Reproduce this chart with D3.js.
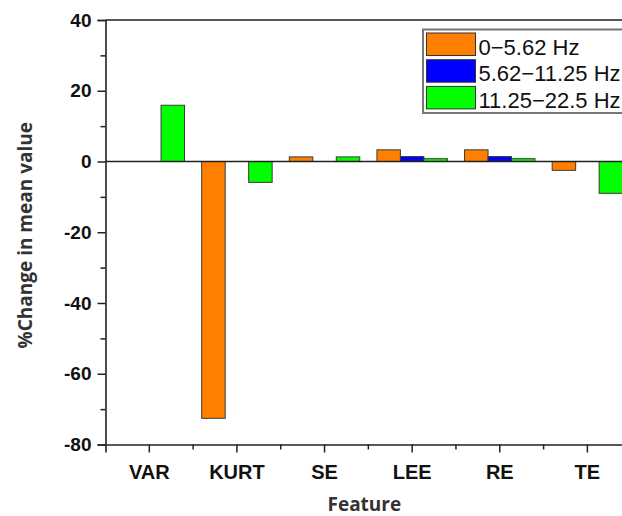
<!DOCTYPE html>
<html>
<head>
<meta charset="utf-8">
<script src="https://cdn.jsdelivr.net/npm/d3@7"></script>
<style>
  html, body { margin: 0; padding: 0; background: #fff; }
  svg { display: block; }
</style>
</head>
<body>
<svg id="chart" width="622" height="516"></svg>
<script>
const categories = ["VAR", "KURT", "SE", "LEE", "RE", "TE"];
const seriesNames = ["0\u22125.62 Hz", "5.62\u221211.25 Hz", "11.25\u221222.5 Hz"];
const seriesColors = ["#FF8000", "#0000FF", "#00FF00"];
const band1 = [0, -72.6, 1.3, 3.3, 3.3, -2.5];   // 0-5.62 Hz
const band2 = [0, 0, 0, 1.4, 1.4, 0];            // 5.62-11.25 Hz
const band3 = [15.9, -5.9, 1.3, 0.8, 0.8, -9.0]; // 11.25-22.5 Hz
const seriesValues = [band1, band2, band3];
const yMajorTicks = [-80, -60, -40, -20, 0, 20, 40];
const yMinorTicks = [-70, -50, -30, -10, 10, 30];

const svg = d3.select("#chart");
const mLeft = 105.5, mRight = 631.2, mTop = 20, mBottom = 444.5;

const x = d3.scaleBand().domain(categories).range([mLeft, mRight]).padding(0);
const bw = x.bandwidth();
const xs = d3.scaleBand().domain(d3.range(seriesNames.length)).range([bw * 0.098, bw * 0.902]).padding(0);
const y = d3.scaleLinear().domain([-80, 40]).range([mBottom, mTop]);

// bars
seriesValues.forEach((vals, si) => {
  svg.append("g").selectAll("rect")
    .data(vals.map((v, i) => ({ v, c: categories[i] })).filter(d => d.v !== 0))
    .join("rect")
    .attr("x", d => x(d.c) + xs(si))
    .attr("width", xs.bandwidth())
    .attr("y", d => y(Math.max(0, d.v)))
    .attr("height", d => Math.abs(y(d.v) - y(0)))
    .attr("fill", seriesColors[si])
    .attr("stroke", "#3a3a3a")
    .attr("stroke-width", 1);
});

// zero line
svg.append("line")
  .attr("x1", mLeft).attr("x2", mRight)
  .attr("y1", y(0)).attr("y2", y(0))
  .attr("stroke", "#222").attr("stroke-width", 1.3);

// frame top/right
svg.append("path")
  .attr("d", `M${mLeft},${mTop}H${mRight}V${mBottom}`)
  .attr("fill", "none").attr("stroke", "#222").attr("stroke-width", 1.6);

// y axis
const yAxis = svg.append("g").attr("transform", `translate(${mLeft},0)`)
  .call(d3.axisLeft(y).tickValues(yMajorTicks).tickSize(8).tickPadding(6).tickFormat(d => String(d)));
svg.append("g").attr("transform", `translate(${mLeft},0)`)
  .call(d3.axisLeft(y).tickValues(yMinorTicks).tickSize(5).tickFormat(""))
  .call(g => g.select(".domain").remove());

// x axis
const xAxis = svg.append("g").attr("transform", `translate(0,${mBottom})`)
  .call(d3.axisBottom(x).tickSize(8).tickPadding(12));
const xMinor = categories.slice(1).map(c => x(c));
svg.append("g").attr("transform", `translate(0,${mBottom})`)
  .selectAll("line").data(xMinor).join("line")
  .attr("x1", d => d).attr("x2", d => d).attr("y1", 0).attr("y2", 5)
  .attr("stroke", "#222").attr("stroke-width", 1.5);

svg.selectAll(".domain").attr("stroke", "#222").attr("stroke-width", 1.6);
svg.selectAll(".tick line").attr("stroke", "#222").attr("stroke-width", 1.5);
yAxis.selectAll(".tick text")
  .attr("font-family", "Liberation Sans, Arial, sans-serif")
  .attr("font-weight", "bold").attr("font-size", 19).attr("fill", "#111");
xAxis.selectAll(".tick text")
  .attr("font-family", "Liberation Sans, Arial, sans-serif")
  .attr("font-weight", "bold").attr("font-size", 20).attr("fill", "#111");

// axis titles
svg.append("text")
  .attr("x", (mLeft + mRight) / 2 - 4).attr("y", 511)
  .attr("text-anchor", "middle")
  .attr("font-family", "Open Sans, sans-serif").attr("font-weight", "bold")
  .attr("font-size", 19).attr("fill", "#333")
  .text("Feature");
svg.append("text")
  .attr("transform", `translate(32,${(mTop + mBottom) / 2 + 3}) rotate(-90)`)
  .attr("text-anchor", "middle")
  .attr("font-family", "Open Sans, sans-serif").attr("font-weight", "bold")
  .attr("font-size", 19).attr("fill", "#333")
  .text("%Change in mean value");

// legend
const lg = svg.append("g").attr("transform", "translate(423,29.5)");
lg.append("rect").attr("x", 0).attr("y", 0).attr("width", 230).attr("height", 83.5)
  .attr("fill", "#fff").attr("stroke", "#777").attr("stroke-width", 2);
seriesNames.forEach((n, i) => {
  lg.append("rect")
    .attr("x", 3.5).attr("y", 3.5 + i * 26.7)
    .attr("width", 49).attr("height", 22.5)
    .attr("fill", seriesColors[i]).attr("stroke", "#333").attr("stroke-width", 1);
  lg.append("text")
    .attr("x", 55.5).attr("y", 25 + i * 26.7)
    .attr("font-family", "Liberation Sans, Arial, sans-serif")
    .attr("font-size", 22).attr("fill", "#111")
    .text(n);
});
</script>
</body>
</html>
